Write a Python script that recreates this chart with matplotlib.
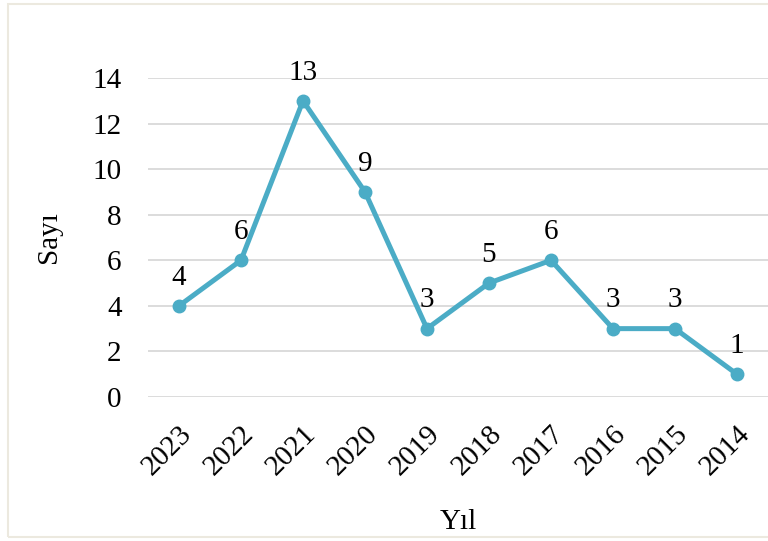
import matplotlib
matplotlib.use("Agg")
import matplotlib.pyplot as plt
from matplotlib.patches import Rectangle
from matplotlib.transforms import ScaledTranslation

years = ["2023", "2022", "2021", "2020", "2019", "2018", "2017", "2016", "2015", "2014"]
counts = [4, 6, 13, 9, 3, 5, 6, 3, 3, 1]
yticks = [0, 2, 4, 6, 8, 10, 12, 14]

plt.rcParams['font.family'] = ['Liberation Serif', 'DejaVu Serif']

fig = plt.figure(figsize=(7.68, 5.41), dpi=100)
ax = fig.add_axes([0.1927, 0.2662, 0.8073, 0.5896])

x = list(range(len(years)))
ax.plot(x, counts, color='#4BACC6', lw=3.6, marker='o', markersize=9, zorder=3)
for xi, v in zip(x, counts):
    ax.annotate(str(v), (xi, v), xytext=(0, 11), textcoords='offset points',
                ha='center', va='bottom', fontsize=21)

ax.set_xlim(-0.5, len(years) - 0.5)
ax.set_ylim(0, 14)
ax.set_yticks(yticks)
ax.set_xticks(x)
ax.set_xticklabels(years, rotation=45, ha='right', rotation_mode='anchor', fontsize=21)
shift = ScaledTranslation(-6 / 100, 0, fig.dpi_scale_trans)
for lbl in ax.get_xticklabels():
    lbl.set_transform(lbl.get_transform() + shift)
ax.tick_params(axis='y', labelsize=21, length=0, pad=19)
ax.tick_params(axis='x', length=0, pad=17)
ax.grid(axis='y', color='#D9D9D9', lw=1.3)
ax.set_axisbelow(True)
for s in ax.spines.values():
    s.set_visible(False)
ax.set_ylabel('Sayı', fontsize=21, labelpad=22)
ax.set_xlabel('Yıl', fontsize=21, labelpad=21)
ax.set_clip_on(False)

fig.patches.append(Rectangle((8/768, 4/541), 1.2, 1 - 8/541, transform=fig.transFigure,
                             fill=False, edgecolor='#ECE9DF', lw=1.5))
fig.savefig('out.png', dpi=100)
